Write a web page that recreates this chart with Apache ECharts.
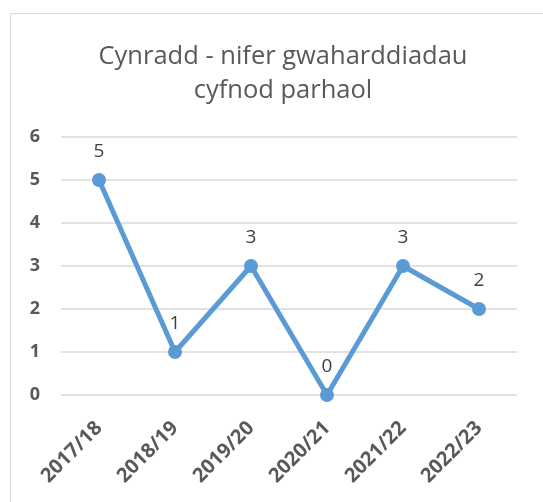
<!DOCTYPE html>
<html>
<head>
<meta charset="utf-8">
<script src="https://cdn.jsdelivr.net/npm/echarts@6/dist/echarts.min.js"></script>
<style>
  html, body { margin: 0; padding: 0; background: #fff; }
  #main { width: 543px; height: 502px; }
</style>
</head>
<body>
<div id="main"></div>
<script>
// data
var years = ['2017/18', '2018/19', '2019/20', '2020/21', '2021/22', '2022/23'];
var exclusions = [5, 1, 3, 0, 3, 2];

var chart = echarts.init(document.getElementById('main'));
var option = {
  backgroundColor: '#fff',
  animation: false,
  title: {
    text: 'Cynradd - nifer gwaharddiadau\ncyfnod parhaol',
    left: 278,
    top: 35,
    textAlign: 'center',
    textStyle: {
      fontFamily: 'Open Sans',
      fontSize: 25.5,
      fontWeight: 'normal',
      color: '#595959',
      lineHeight: 34
    }
  },
  graphic: [{
    // chart area border
    type: 'rect',
    shape: { x: 10.5, y: 13.5, width: 560, height: 520 },
    style: { fill: 'none', stroke: '#d9d9d9', lineWidth: 1 },
    silent: true
  }],
  grid: {
    left: 61,
    right: 26,
    top: 137,
    bottom: 107
  },
  xAxis: {
    type: 'category',
    data: years,
    boundaryGap: true,
    axisLine: { show: false },
    axisTick: { show: false },
    axisLabel: {
      rotate: 45,
      margin: 30,
      fontFamily: 'Open Sans',
      fontSize: 20,
      fontWeight: 'bold',
      color: '#595959'
    }
  },
  yAxis: {
    type: 'value',
    min: 0,
    max: 6,
    interval: 1,
    axisLine: { show: false },
    axisTick: { show: false },
    splitLine: { lineStyle: { color: '#d9d9d9', width: 1.5 } },
    axisLabel: {
      margin: 21,
      fontFamily: 'Open Sans',
      fontSize: 18,
      fontWeight: 'bold',
      color: '#595959'
    }
  },
  series: [{
    type: 'line',
    data: exclusions,
    symbol: 'circle',
    symbolSize: 14,
    lineStyle: { color: '#5b9bd5', width: 5 },
    itemStyle: { color: '#5b9bd5' },
    label: {
      show: true,
      position: 'top',
      distance: 12,
      fontFamily: 'Open Sans',
      fontSize: 19,
      color: '#404040'
    }
  }]
};
chart.setOption(option);
</script>
</body>
</html>
